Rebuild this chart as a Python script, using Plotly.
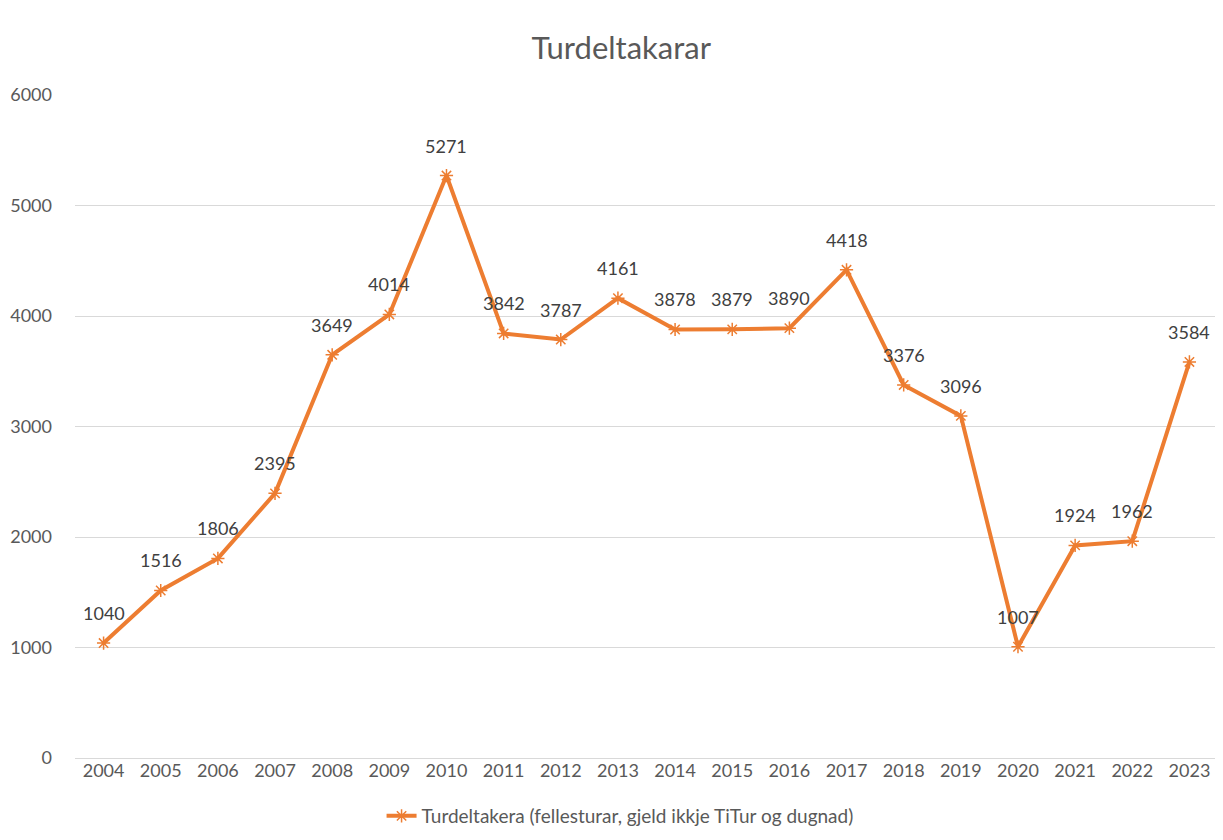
import plotly.graph_objects as go

years = [str(y) for y in range(2004, 2024)]
values = [1040, 1516, 1806, 2395, 3649, 4014, 5271, 3842, 3787, 4161,
          3878, 3879, 3890, 4418, 3376, 3096, 1007, 1924, 1962, 3584]
series_name = "Turdeltakera (fellesturar, gjeld ikkje TiTur og dugnad)"
title_text = "Turdeltakarar"

orange = "#ED7D31"
grey = "#595959"
font_family = "Lato, 'Open Sans', sans-serif"
W, H = 1212, 824

fig = go.Figure()
fig.add_trace(go.Scatter(
    x=years, y=values, name=series_name,
    mode="lines+markers",
    line=dict(color=orange, width=4),
    marker=dict(symbol="asterisk-open", size=11, color=orange,
                line=dict(color=orange, width=1.5)),
    cliponaxis=False,
))

for i, v in enumerate(values):
    fig.add_annotation(x=i, y=v, xref="x", yref="y", text=str(v), showarrow=False,
                       yshift=30, font=dict(color="#404040", size=18, family=font_family))

fig.update_layout(
    width=W, height=H,
    paper_bgcolor="white", plot_bgcolor="white",
    margin=dict(l=67, r=2, t=87, b=74),
    title=dict(text=title_text, x=0.506, xref="container", xanchor="center",
               y=1 - 40 / H, yref="container", yanchor="middle",
               font=dict(size=31, color=grey, family=font_family)),
    font=dict(family=font_family, color=grey, size=18),
    showlegend=True,
    legend=dict(orientation="h", x=0.505, xanchor="center", xref="container",
                y=1 - 808 / H, yref="container", yanchor="middle",
                font=dict(size=19, color=grey)),
    xaxis=dict(type="category", range=[-0.5, len(years) - 0.5], automargin=False,
               showgrid=False, showline=False, zeroline=False,
               ticks="", tickfont=dict(size=18, color=grey)),
    yaxis=dict(range=[0, 6000], dtick=1000, automargin=False, showgrid=True,
               gridcolor="#D9D9D9", gridwidth=1, zeroline=True,
               zerolinecolor="#D9D9D9", zerolinewidth=1,
               showline=False, ticks="", ticklabelstandoff=22,
               tickfont=dict(size=18, color=grey)),
)

fig.write_html("out.html")
